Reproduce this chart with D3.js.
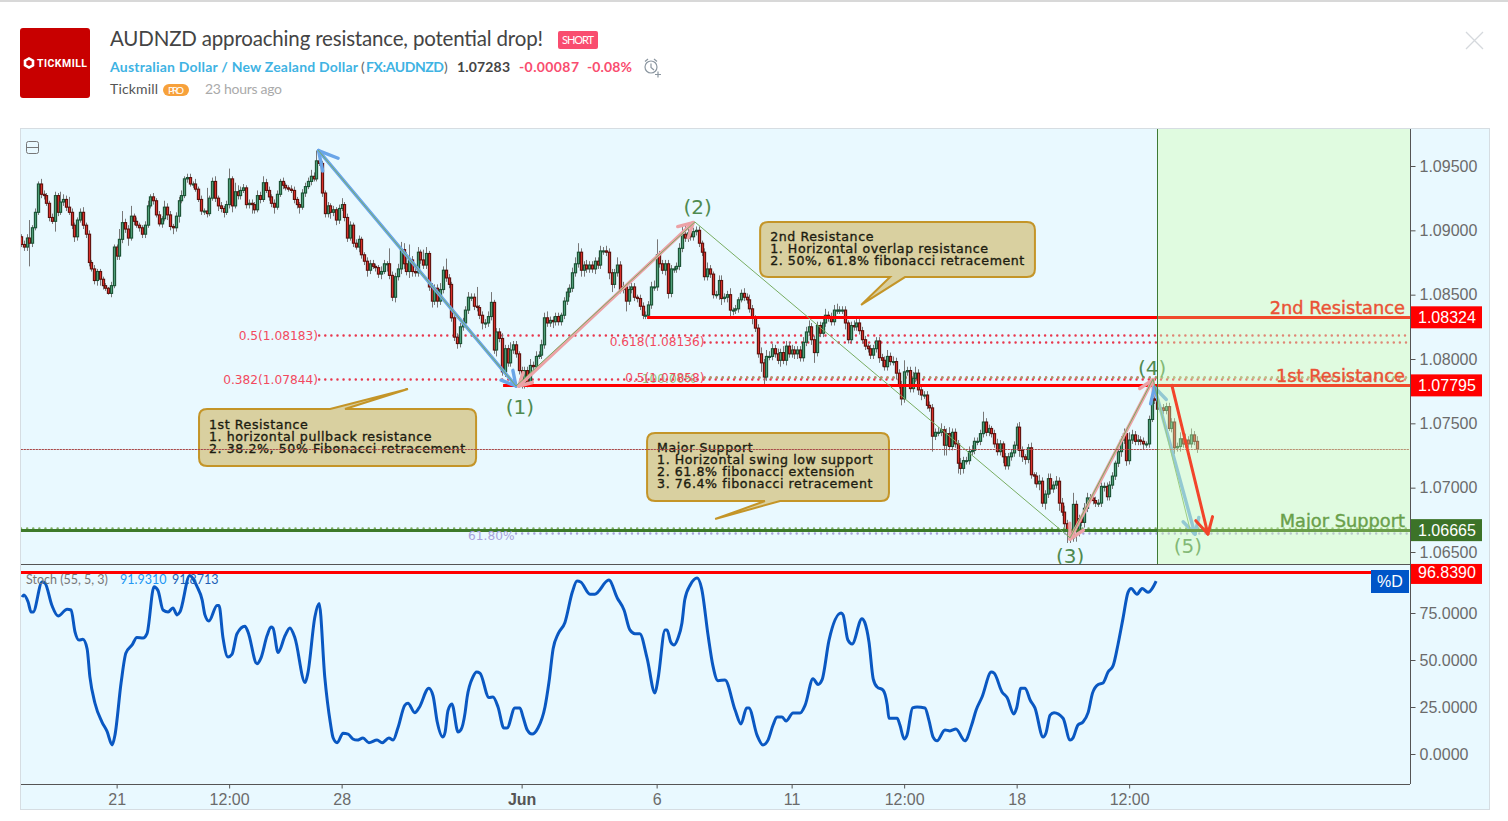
<!DOCTYPE html>
<html>
<head>
<meta charset="utf-8">
<title>AUDNZD approaching resistance, potential drop!</title>
<script src="https://cdnjs.cloudflare.com/ajax/libs/d3/7.8.5/d3.min.js"></script>
<style>
  html, body { margin: 0; padding: 0; background: #fff; }
  svg { display: block; }
  .hdr { font-family: "Lato", sans-serif; }
  .ax text { font-family: "Liberation Sans", Arial, sans-serif; font-size: 16px; fill: #6b6b6b; }
  .note { font-family: "DejaVu Sans", sans-serif; font-size: 12.6px; letter-spacing: 0.57px; fill: #1c1c10; stroke: #1c1c10; stroke-width: 0.35; }
</style>
</head>
<body>
<svg id="chart" width="1508" height="821"></svg>
<script>
/* candle data, bar by bar */
var firstOpen = 1.0895;
var closes = [
  1.0889,1.0887,1.0894,1.0890,1.0902,1.0914,1.0936,1.0928,1.0927,1.0921,1.0910,1.0907,1.0927,1.0914,1.0922,1.0924,1.0918,1.0914,
  1.0904,1.0895,1.0908,1.0914,1.0904,1.0897,1.0875,1.0870,1.0861,1.0868,1.0862,1.0857,1.0855,1.0851,1.0857,1.0887,1.0880,
  1.0893,1.0906,1.0901,1.0894,
  1.0911,1.0907,1.0904,1.0902,1.0897,1.0904,1.0919,1.0926,1.0923,1.0912,1.0905,1.0909,1.0918,1.0912,1.0903,1.0902,1.0911,1.0923,1.0927,1.0940,1.0941,
  1.0936,1.0936,1.0932,1.0924,1.0915,1.0915,1.0913,1.0925,1.0938,1.0925,1.0919,1.0917,1.0914,1.0920,1.0940,1.0919,1.0930,1.0927,1.0931,1.0933,
  1.0920,1.0921,1.0920,1.0916,1.0927,1.0924,1.0937,1.0931,1.0926,1.0921,1.0918,1.0928,1.0938,1.0935,1.0933,1.0932,1.0931,1.0924,1.0920,1.0918,
  1.0929,1.0934,1.0938,1.0942,1.0940,1.0954,1.0952,1.0929,1.0913,1.0919,1.0914,1.0916,1.0908,1.0917,1.0920,1.0910,1.0894,1.0904,1.0890,1.0887,
  1.0893,1.0881,1.0876,1.0869,1.0874,
  1.0872,1.0871,1.0866,1.0868,1.0874,1.0874,1.0865,1.0848,1.0864,1.0870,1.0885,1.0874,1.0868,1.0877,1.0868,
  1.0867,1.0883,1.0877,1.0873,1.0882,1.0856,1.0845,1.0855,1.0845,1.0854,1.0869,1.0863,1.0858,1.0832,1.0817,1.0812,1.0825,1.0828,1.0838,1.0848,
  1.0848,1.0841,1.0840,1.0834,1.0828,1.0828,1.0833,1.0844,1.0807,1.0821,1.0816,1.0790,1.0808,1.0797,1.0807,1.0811,1.0804,1.0791,1.0780,1.0791,
  1.0782,1.0795,1.0794,1.0802,1.0803,1.0811,1.0832,1.0828,1.0830,1.0829,1.0833,1.0829,1.0834,1.0845,1.0852,1.0855,1.0867,1.0874,1.0883,1.0869,
  1.0873,1.0870,1.0873,1.0870,1.0876,1.0873,1.0884,1.0884,1.0883,1.0867,1.0858,1.0867,1.0873,1.0854,1.0856,1.0845,1.0854,1.0856,1.0848,1.0847,
  1.0841,1.0834,1.0834,1.0842,1.0856,1.0856,1.0881,1.0874,1.0869,1.0874,1.0851,1.0870,1.0870,1.0872,1.0886,1.0897,1.0894,1.0898,1.0895,1.0899,
  1.0900,1.0890,1.0883,1.0864,1.0870,1.0866,1.0850,1.0850,1.0861,
  1.0847,1.0848,1.0850,1.0838,1.0838,1.0839,1.0846,1.0851,1.0848,1.0846,1.0839,
  1.0832,1.0824,1.0804,1.0797,1.0786,1.0802,1.0802,1.0808,1.0804,1.0799,1.0805,1.0799,1.0810,1.0804,1.0807,1.0804,1.0807,1.0801,1.0813,1.0821,
  1.0825,1.0815,1.0805,1.0826,1.0820,1.0828,1.0834,1.0833,1.0829,1.0838,1.0838,1.0838,1.0838,1.0828,1.0815,1.0826,1.0825,1.0828,1.0822,1.0815,
  1.0810,1.0808,1.0803,1.0808,1.0814,1.0801,1.0799,1.0794,1.0802,1.0798,1.0798,1.0789,1.0780,1.0769,1.0790,1.0791,1.0777,1.0785,1.0789,1.0776,
  1.0772,1.0772,1.0764,1.0762,1.0740,1.0743,1.0743,1.0745,1.0733,1.0742,1.0732,1.0743,1.0734,1.0719,1.0715,1.0721,1.0721,1.0728,1.0729,1.0736,
  1.0736,1.0742,1.0751,1.0743,1.0746,1.0742,1.0734,1.0728,1.0734,1.0724,1.0717,1.0724,1.0727,1.0733,1.0747,
  1.0729,1.0724,1.0722,1.0731,1.0710,1.0709,1.0703,1.0705,1.0688,1.0695,1.0707,1.0699,1.0702,1.0705,1.0688,1.0681,1.0672,1.0666,1.0661,1.0687,
  1.0666,1.0676,1.0673,1.0684,1.0692,1.0692,1.0690,1.0688,1.0688,1.0701,1.0701,1.0693,1.0702,1.0709,1.0719,1.0728,1.0737,1.0742,1.0721,1.0737,
  1.0741,1.0736,1.0737,1.0736,1.0734,1.0734,1.0753,1.0769,1.0768,1.0761,1.0762,1.0760,1.0763,1.0746,1.0751,1.0731,1.0732,1.0738,1.0734,1.0737,
  1.0734,1.0741,1.0736,1.0730
];
/* shadow lengths in pips */
var wickUp = [
  2,3,3,14,2,3,2,4,3,2,2,3,3,2,8,4,3,8,3,2,
  2,3,4,2,3,2,3,2,2,2,2,1,3,2,2,8,9,3,3,8,
  2,3,2,2,3,4,2,3,2,3,2,5,3,3,2,3,3,4,2,3,
  3,2,4,2,3,2,18,2,3,4,2,3,2,3,8,2,7,5,3,3,
  2,3,3,2,4,3,5,3,3,2,3,3,2,3,2,2,3,3,2,2,
  3,3,3,5,3,8,3,2,2,3,2,3,2,3,5,2,3,3,2,3,
  3,2,2,3,3,3,2,2,4,3,2,12,3,3,4,6,5,9,12,3,
  3,4,2,8,5,2,3,3,3,5,3,9,3,2,2,3,3,4,3,4,
  3,3,15,2,3,3,4,8,2,3,3,4,3,3,6,3,3,2,3,3,
  3,5,3,4,3,4,4,5,3,3,3,3,2,3,3,3,4,5,7,3,
  3,4,3,3,3,3,4,3,4,3,3,3,6,3,4,2,3,3,3,2,
  3,3,3,3,4,5,12,3,3,3,3,3,2,3,4,6,7,4,3,3,
  3,3,2,3,5,3,2,3,4,4,3,3,5,2,3,2,3,4,3,4,
  3,2,3,5,3,5,4,4,3,4,3,5,4,3,4,3,3,3,4,4,
  5,3,3,3,3,4,5,3,3,4,5,3,3,3,2,3,4,4,3,3,
  3,2,3,3,3,3,3,3,5,3,4,3,3,3,9,3,3,5,5,3,
  3,3,3,3,3,3,4,5,3,4,5,3,3,3,4,3,3,4,4,3,
  3,3,8,3,3,2,3,4,3,2,3,3,3,3,3,4,3,2,3,4,
  2,3,5,3,3,4,4,3,4,3,4,5,3,2,9,3,3,3,4,4,
  3,3,3,3,3,3,3,3,3,2,3,3,4,3,6,4,3,4,3,3,
  2,3,6,3,3,2,3,3,3,3,3,3,5,3,5,3,5,3,4
];
var wickDown = [
  2,3,3,18,3,2,2,3,3,2,3,2,8,3,2,3,3,2,3,4,
  3,2,3,3,3,2,3,4,5,3,2,1,3,2,3,3,3,3,6,2,
  3,2,3,3,3,2,2,3,2,2,3,2,4,3,5,3,5,2,2,3,
  2,3,2,2,3,3,3,2,2,3,4,3,4,2,3,5,2,3,3,2,
  3,3,7,3,2,3,2,2,3,3,5,2,2,3,2,2,2,3,3,5,
  2,3,2,3,2,2,2,3,3,3,5,3,4,3,2,3,3,2,3,2,
  4,3,3,5,3,2,3,3,4,2,6,3,3,4,3,4,4,3,5,4,
  3,3,3,3,3,3,5,3,5,3,3,3,3,3,3,4,3,3,2,3,
  3,3,3,3,5,4,3,3,3,5,3,3,4,3,3,3,3,3,3,3,
  4,3,3,3,2,3,3,3,3,5,3,3,3,3,3,4,3,3,3,5,
  5,3,3,3,4,3,3,3,3,5,6,3,3,3,3,8,3,3,3,3,
  3,3,3,3,3,3,3,3,3,4,4,3,3,3,3,3,3,3,3,3,
  3,3,3,3,3,3,3,3,4,5,3,4,5,4,3,3,2,3,3,3,
  5,3,3,7,6,3,3,3,3,3,5,3,4,3,3,4,4,3,3,3,
  3,4,8,3,3,3,3,4,3,3,3,3,3,5,3,3,3,3,3,3,
  3,3,3,3,3,4,5,3,3,3,3,5,3,5,3,3,3,3,3,4,
  4,3,3,3,12,3,3,3,8,8,3,3,3,8,5,4,3,3,3,3,
  3,3,3,3,3,3,3,3,3,5,3,3,3,3,4,5,4,4,3,3,
  6,3,5,3,5,3,4,3,3,6,3,3,9,4,3,8,4,3,4,3,
  3,3,3,3,3,4,3,3,3,3,3,4,3,4,3,3,3,3,3,4,
  3,3,2,3,3,3,3,3,2,3,5,3,4,3,3,3,3,3,3
];

/* stochastic %D, traced along its bends */
var stochBars = [
  0.4,1,2.5,3.6,4.3,7.5,8.5,11,13.2,16.4,17.8,19.2,20.6,22,23.5,24.5,26.3,28.8,30.6,32.4,33.4,35.6,37.3,39.5,41.2,43.4,44.8,47.3,48.7,50.5,
  52.3,54,55.5,56.5,60,62.6,64.4,65.4,66.8,69.7,70.4,71.8,73.6,75,76.8,79.6,80.7,83.9,85.3,87.5,88.9,89.6,91.4,93.9,95.6,97.4,101,102,104.5,106,
  108,110,111,112.4,114.5,116.3,118,119.5,121.6,123.7,126.6,128.4,130.8,132.3,134,136.5,137.6,140,141.5,145,146.5,148,150,150.8,151.8,153.2,155.4,156.4,157.9,158.6,
  160.7,162,163.2,166.4,167.8,169.6,171.7,172.8,175.6,177.4,178.5,180,181.7,183.8,186.3,187.7,189.2,191,193.4,196,197.7,199,202.3,204,209,212,214.4,216.5,218.3,220,
  222.6,225.4,226.5,229,229.7,231,232.2,233.6,235,236,238,240.4,242,244.3,246,247.8,250.3,253.9,256,258,258.8,261.7,263.8,265.6,267.4,268.8,270.6,272,274.5,277,
  278.8,281.6,283.4,284.8,287.3,291.6,292.3,294,295.5,299,300,301.5,303,304.4,306.5,308,308.6,311.5,312.5,314,315,317,318.6,321.4,322.8,324.3,325.7,328.5,330.3,332.4,
  335.6,338,339.6,341.7,345,346,348.8,350.6,353,354,355.5,357,358.8,360.5,363.4,364.4,365.9,367.3,370.5,373,374,375.8,377.6,379.4,381,383,384.7,386.5,388.3,390,
  391.8,393.6,394.7,396.8,398.6,400.7,403.6
];
var stochValues = [
  83.5,84.6,81,75.5,75.5,91.5,91,79,73.4,77,76.6,65,60.6,61,56,41,27,17,12,4.8,10,38,53.7,58,62,61.7,64,89,87,76.6,
  75.5,77.7,74,75.5,95,89,82,74,70.7,79,79,62,51.6,53,64,68,65,48,51,63,67.5,67,54,63,67,61.7,38,43,73,80,
  41,16.5,8.5,6,11,10.6,8,7.4,8.5,6,7.4,6,8.5,7.4,13.8,26,27,22,24.5,35,31,17,9,11.7,23,26.6,11.7,12.8,22,30,
  41,43.6,43,30,30.3,25,13.8,13.8,24.5,24.5,19.7,12.8,10.6,13.8,25,38,56,64,70,86,92,91.5,85,85,92.5,83,76.6,66,64,64,
  51,32.5,40,66,66,59.6,58,61.7,69.7,82,90,93.6,88,63,47,39,39.4,23.4,16,24.5,24.5,10,4.8,7.4,15.4,19.7,19.7,17.5,21.8,21.8,
  26,40,37,39.4,60.6,75,74,60.6,58.5,72,70,59.6,40,35.6,34,26,19,19,15.4,8,10,24.5,25,24.5,18,9,7,12.8,12.3,13.3,
  7,15.4,23.4,30.3,43.6,43,33,30,21.3,24.5,35,35,28.7,24.5,9,11,20.7,22,19,7.4,8.5,15.4,17,22,32.5,37,37.8,43.6,47,58,
  72,86,88,85,88,86,92
];

var priceTicks = [1.065, 1.07, 1.075, 1.08, 1.085, 1.09, 1.095];
var stochTicks = [0, 25, 50, 75];
var timeBars = [34, 74, 114, 178, 226, 274, 314, 354, 394];
var timeLabels = ["21", "12:00", "28", "Jun", "6", "11", "12:00", "18", "12:00"];

/* drawn levels, wave turning points */
var levelPrices = [1.08324, 1.07795, 1.0667];
var levelBars = [222.6, 171.4, 0];
var levelTags = ["1.08324", "1.07795", "1.06665"];
var levelNames = ["2nd Resistance", "1st Resistance", "Major Support"];
var lastPrice = 1.0730;
var stochLevel = 96.839;
var waveBars = [105.6, 176, 239.6, 373, 402.5, 415.6];
var wavePrices = [1.09624, 1.0779, 1.09065, 1.0661, 1.07844, 1.0668];

var svg = d3.select("#chart");

/* scales */
var x = d3.scaleLinear().domain([0, 494]).range([21, 1410.4]);
var y = d3.scaleLinear().domain([1.065, 1.095]).range([552, 166]);
var yS = d3.scaleLinear().domain([0, 75]).range([754, 613]);

var paneL = 21, paneR = 1410, paneT = 129, paneM = 564, paneB = 784;
var pip = 0.0001;

var candles = closes.map(function(c, i) {
  var o = i === 0 ? firstOpen : closes[i - 1];
  return {
    i: i, o: o, c: c,
    h: Math.max(o, c) + (wickUp[i] || 0) * pip,
    l: Math.min(o, c) - (wickDown[i] || 0) * pip
  };
});

/* page chrome */
svg.append("rect").attr("width", 1508).attr("height", 2).attr("fill", "#d8d8d8");
svg.append("rect").attr("x", 20).attr("y", 28).attr("width", 70).attr("height", 70).attr("rx", 3).attr("fill", "#c80000");
svg.append("path").attr("d", d3.line()(d3.range(6).map(function(k) {
  var a = Math.PI / 3 * k + Math.PI / 6;
  return [29 + 4.6 * Math.cos(a), 63 + 4.6 * Math.sin(a)];
})) + "Z").attr("fill", "none").attr("stroke", "#fff").attr("stroke-width", 2.6);
svg.append("text").attr("x", 37).attr("y", 67).text("TICKMILL")
  .attr("font-family", "Roboto, sans-serif").attr("font-weight", 700).attr("font-size", 10.5).attr("fill", "#fff").attr("textLength", 50);

svg.append("text").attr("class", "hdr").attr("x", 110).attr("y", 46).text("AUDNZD approaching resistance, potential drop!")
  .attr("font-size", 20.5).attr("fill", "#444").attr("textLength", 433);
svg.append("rect").attr("x", 558).attr("y", 31).attr("width", 40).attr("height", 18).attr("rx", 2).attr("fill", "#f94d6f");
svg.append("text").attr("class", "hdr").attr("x", 578).attr("y", 44).attr("text-anchor", "middle").text("SHORT")
  .attr("font-size", 11).attr("fill", "#fff").attr("textLength", 32);

function headerText(xp, yp, s, col, weight, size, len) {
  var t = svg.append("text").attr("class", "hdr").attr("x", xp).attr("y", yp).text(s)
    .attr("fill", col).attr("font-weight", weight).attr("font-size", size);
  if (len) t.attr("textLength", len);
}
headerText(110, 72, "Australian Dollar / New Zealand Dollar", "#3fb3e3", 700, 14, 248);
headerText(361, 72, "(", "#666", 400, 14);
headerText(366, 72, "FX:AUDNZD", "#3fb3e3", 700, 14, 78);
headerText(444, 72, ")", "#666", 400, 14);
headerText(457, 72, "1.07283", "#444", 700, 14, 53);
headerText(519, 72, "-0.00087", "#f94d6f", 700, 14, 60);
headerText(587, 72, "-0.08%", "#f94d6f", 700, 14, 45);
headerText(110, 94, "Tickmill", "#555", 400, 14, 48);
svg.append("rect").attr("x", 163).attr("y", 84).attr("width", 26).attr("height", 12).attr("rx", 6).attr("fill", "#f7a13b");
headerText(168, 94, "PRO", "#fff", 400, 10, 16);
headerText(205, 94, "23 hours ago", "#aaa", 400, 14, 77);

/* alarm clock */
var clock = svg.append("g").attr("fill", "none").attr("stroke", "#8b96a0").attr("stroke-width", 1.2);
clock.append("circle").attr("cx", 651).attr("cy", 67).attr("r", 6);
clock.append("path").attr("d", "M651 63.5V67.5L654 70M645 61.5L648 59M657 61.5L654 59M655 74.5H661M658 71.5V77.5");
/* close cross */
svg.append("path").attr("d", "M1466 32L1483 49M1483 32L1466 49").attr("stroke", "#d5d9dd").attr("stroke-width", 1.3);

/* chart frame */
svg.append("rect").attr("x", 20.5).attr("y", 128.5).attr("width", 1469).attr("height", 681)
  .attr("fill", "#e9f9ff").attr("stroke", "#d6dde2");

var defs = svg.append("defs");
defs.append("clipPath").attr("id", "pricePane").append("rect")
  .attr("x", paneL).attr("y", paneT).attr("width", paneR - paneL).attr("height", paneM - paneT);
defs.append("clipPath").attr("id", "stochPane").append("rect")
  .attr("x", paneL).attr("y", paneM).attr("width", paneR - paneL).attr("height", paneB - paneM);

var pane = svg.append("g").attr("clip-path", "url(#pricePane)");

function hLine(g, bar, price, col, width, dash) {
  var l = g.append("line").attr("x1", x(bar)).attr("x2", paneR)
    .attr("y1", Math.round(y(price)) + 0.5).attr("y2", Math.round(y(price)) + 0.5)
    .attr("stroke", col).attr("stroke-width", width);
  if (dash) l.attr("stroke-dasharray", dash).attr("stroke-linecap", "round");
}

/* fib and support dots go under the candles */
var dots = "0.1 6";
hLine(pane, 106, 1.08183, "#e8384e", 2.4, dots);
hLine(pane, 106, 1.07844, "#e8384e", 2.4, dots);
hLine(pane, 243, 1.08136, "#e8384e", 2.4, dots);
hLine(pane, 243, 1.07858, "#e8384e", 2.4, dots);
hLine(pane, 243, 1.0786, "#8fb56a", 2.2, dots);
hLine(pane, 176, 1.06648, "#a7a2dc", 2.4, dots);
hLine(pane, 0, 1.06688, "#7fae62", 2.4, dots);

/* candles */
var bars = pane.append("g").selectAll("g").data(candles).join("g");
bars.append("line")
  .attr("x1", function(d) { return Math.round(x(d.i)) + 0.5; })
  .attr("x2", function(d) { return Math.round(x(d.i)) + 0.5; })
  .attr("y1", function(d) { return y(d.h); })
  .attr("y2", function(d) { return y(d.l); })
  .attr("stroke", "#777").attr("stroke-width", 1);
bars.append("rect")
  .attr("x", function(d) { return Math.round(x(d.i)) - 0.6; })
  .attr("width", 2.2)
  .attr("y", function(d) { return y(Math.max(d.o, d.c)); })
  .attr("height", function(d) { return Math.max(1, Math.abs(y(d.o) - y(d.c))); })
  .attr("fill", function(d) { return d.c >= d.o ? "#4f9e78" : "#d8302a"; })
  .attr("stroke", function(d) { return d.c >= d.o ? "#1a5234" : "#5e100c"; })
  .attr("stroke-width", 1.1);

/* horizontal levels */
levelPrices.forEach(function(p, i) {
  hLine(pane, levelBars[i], p, i < 2 ? "#ff0000" : "#3d7a2a", 3);
});

/* fib labels */
function fibLabel(bar, price, s, col) {
  pane.append("text").attr("x", x(bar)).attr("y", y(price) + 4.5).attr("text-anchor", "end").text(s)
    .attr("font-family", "DejaVu Sans, sans-serif").attr("font-size", 12.2).attr("fill", col);
}
fibLabel(105.6, 1.08183, "0.5(1.08183)", "#f2495e");
fibLabel(105.6, 1.07844, "0.382(1.07844)", "#f2495e");
fibLabel(243, 1.08136, "0.618(1.08136)", "#f2495e");
fibLabel(240, 1.07845, "100.00%", "#8fc27a");
fibLabel(243, 1.07858, "0.5(1.07858)", "#f2495e");
fibLabel(175.5, 1.06625, "61.80%", "#a7a2dc");

/* arrows, with the wave zigzag over them */
function arrow(parent, b0, p0, b1, p1, col, width, both, len, backLen) {
  var x0 = x(b0), y0 = y(p0), x1 = x(b1), y1 = y(p1);
  var g = parent.append("g").attr("fill", "none").attr("stroke", col).attr("stroke-width", width).attr("stroke-linecap", "round");
  g.append("line").attr("x1", x0).attr("y1", y0).attr("x2", x1).attr("y2", y1);
  function head(xa, ya, xb, yb, l) {
    var a = Math.atan2(yb - ya, xb - xa);
    [-0.5, 0.5].forEach(function(s) {
      g.append("line").attr("x1", xb).attr("y1", yb)
        .attr("x2", xb - l * Math.cos(a + s)).attr("y2", yb - l * Math.sin(a + s));
    });
  }
  head(x0, y0, x1, y1, len);
  if (both) head(x1, y1, x0, y0, backLen || len);
}
arrow(pane, 105.8, 1.0962, 176, 1.0779, "#6aa5e8", 3.4, true, 16, 21);
arrow(pane, 177, 1.0779, 239, 1.0906, "#eca2a6", 3.4, true, 16, 14);
arrow(pane, 373, 1.0660, 402.5, 1.0784, "#eca2a6", 3.4, true, 16, 16);
arrow(pane, 403, 1.0778, 417.4, 1.0664, "#6aa5e8", 3.4, true, 17, 17);

var wave = d3.line().x(function(d) { return x(d[0]); }).y(function(d) { return y(d[1]); });
pane.append("path").datum(d3.zip(waveBars, wavePrices)).attr("d", wave)
  .attr("fill", "none").attr("stroke", "#78ad62").attr("stroke-width", 1);

/* wave labels */
function waveLabel(bar, price, s) {
  pane.append("text").attr("x", x(bar)).attr("y", y(price)).attr("text-anchor", "middle").text(s)
    .attr("font-family", "DejaVu Sans, sans-serif").attr("font-size", 20).attr("fill", "#4f8a4f");
}
waveLabel(177.4, 1.07575, "(1)");
waveLabel(240.6, 1.0913, "(2)");
waveLabel(373, 1.06415, "(3)");
waveLabel(402.2, 1.07875, "(4)");
waveLabel(414.9, 1.06495, "(5)");

/* callout boxes */
function callout(x0b, y0p, x1b, y1p, tipB, tipP, baseA, baseB, lines) {
  var x0 = x(x0b), x1 = x(x1b), y0 = y(y0p), y1 = y(y1p), r = 8;
  var tip = [x(tipB), y(tipP)], a = x(baseA), b = x(baseB);
  var up = tip[1] < y0;
  var d = "M" + (x0 + r) + " " + y0;
  if (up) d += "L" + a + " " + y0 + "L" + tip + "L" + b + " " + y0;
  d += "L" + (x1 - r) + " " + y0 + "Q" + x1 + " " + y0 + " " + x1 + " " + (y0 + r);
  d += "L" + x1 + " " + (y1 - r) + "Q" + x1 + " " + y1 + " " + (x1 - r) + " " + y1;
  if (!up) d += "L" + b + " " + y1 + "L" + tip + "L" + a + " " + y1;
  d += "L" + (x0 + r) + " " + y1 + "Q" + x0 + " " + y1 + " " + x0 + " " + (y1 - r);
  d += "L" + x0 + " " + (y0 + r) + "Q" + x0 + " " + y0 + " " + (x0 + r) + " " + y0 + "Z";
  pane.append("path").attr("d", d).attr("fill", "#d9d0a0").attr("stroke", "#c49528").attr("stroke-width", 2);
  lines.forEach(function(s, k) {
    pane.append("text").attr("class", "note").attr("x", x0 + 10).attr("y", y0 + 19.5 + 12 * k).text(s);
  });
}
callout(63.3, 1.07611, 161.8, 1.07168, 137.6, 1.07767, 109.9, 115.2,
  ["1st Resistance", "1. horizontal pullback resistance", "2. 38.2%, 50% Fibonacci retracement"]);
callout(262.8, 1.09065, 360.5, 1.08637, 298.7, 1.0842, 309, 314.3,
  ["2nd Resistance", "1. Horizontal overlap resistance", "2. 50%, 61.8% fibonacci retracement"]);
callout(222.6, 1.07425, 308.6, 1.06896, 246.8, 1.06756, 264.5, 269.9,
  ["Major Support", "1. Horizontal swing low support", "2. 61.8% fibonacci extension", "3. 76.4% fibonacci retracement"]);

/* last price dots run over the callouts */
hLine(pane, 0, lastPrice, "#a84848", 1, "1.5 1.5");

/* projection zone, drawn over what is already in the pane */
var zoneBar = 404;
pane.append("rect").attr("x", x(zoneBar) + 0.5).attr("y", paneT).attr("width", paneR - x(zoneBar)).attr("height", paneM - paneT)
  .attr("fill", "rgb(210,254,177)").attr("fill-opacity", 0.4);
pane.append("line").attr("x1", Math.round(x(zoneBar)) + 0.5).attr("x2", Math.round(x(zoneBar)) + 0.5)
  .attr("y1", paneT).attr("y2", paneM).attr("stroke", "#3d7a34").attr("stroke-width", 1);

/* level lines stay strong inside the zone */
levelPrices.forEach(function(p, i) {
  hLine(pane, zoneBar + 0.4, p, i < 2 ? "#f04a2c" : "#6b9e4a", 3);
});
arrow(pane, 409.2, 1.07795, 422, 1.0664, "#f2442a", 3, false, 18);

/* level names */
levelNames.forEach(function(s, i) {
  var col = i < 2 ? "#ea5236" : "#69a04a";
  pane.append("text").attr("x", 1405).attr("y", y(levelPrices[i]) - 3.5).attr("text-anchor", "end").text(s)
    .attr("font-family", "DejaVu Sans, sans-serif").attr("font-size", 17.8)
    .attr("fill", col).attr("stroke", col).attr("stroke-width", 0.4);
});

/* collapse button */
svg.append("rect").attr("x", 26.5).attr("y", 141.5).attr("width", 12).attr("height", 12).attr("rx", 2)
  .attr("fill", "none").attr("stroke", "#777");
svg.append("line").attr("x1", 26.5).attr("x2", 38.5).attr("y1", 147.5).attr("y2", 147.5).attr("stroke", "#777");

/* stochastic pane */
var sPane = svg.append("g").attr("clip-path", "url(#stochPane)");
var sLine = d3.line().x(function(d) { return x(d[0]); }).y(function(d) { return yS(d[1]); }).curve(d3.curveMonotoneX);
sPane.append("line").attr("x1", paneL).attr("x2", 1371).attr("y1", Math.round(yS(stochLevel)) + 0.5).attr("y2", Math.round(yS(stochLevel)) + 0.5)
  .attr("stroke", "#ff0000").attr("stroke-width", 3);
sPane.append("path").datum(d3.zip(stochBars, stochValues)).attr("d", sLine)
  .attr("fill", "none").attr("stroke", "#0a58c2").attr("stroke-width", 3).attr("stroke-linejoin", "round");

var legend = svg.append("g").attr("font-family", "Lato, sans-serif").attr("font-size", 12.5);
legend.append("text").attr("x", 26).attr("y", 584).attr("fill", "#777").text("Stoch (55, 5, 3)");
legend.append("text").attr("x", 120).attr("y", 584).attr("fill", "#2196f3").text("91.9310");
legend.append("text").attr("x", 172).attr("y", 584).attr("fill", "#1e5fb4").text("91.8713");

/* axes */
var priceAxis = svg.append("g").attr("class", "ax").attr("transform", "translate(1410.5,0)")
  .call(d3.axisRight(y).tickValues(priceTicks).tickSize(5).tickPadding(4).tickFormat(d3.format(".5f")));
var stochAxis = svg.append("g").attr("class", "ax").attr("transform", "translate(1410.5,0)")
  .call(d3.axisRight(yS).tickValues(stochTicks).tickSize(5).tickPadding(4).tickFormat(d3.format(".4f")));
var timeAxis = svg.append("g").attr("class", "ax").attr("transform", "translate(0," + (paneB + 0.5) + ")")
  .call(d3.axisBottom(x).tickValues(timeBars).tickSize(4).tickPadding(5).tickFormat(function(d, i) { return timeLabels[i]; }));
[priceAxis, stochAxis, timeAxis].forEach(function(a) {
  a.select(".domain").remove();
  a.selectAll("line").attr("stroke", "#555");
});
timeAxis.selectAll("text").filter(function(d, i) { return timeLabels[i] === "Jun"; })
  .attr("font-weight", 700).style("fill", "#555");

/* pane borders */
svg.append("path").attr("d", "M1410.5 129V784M21 564.5H1410M21 784.5H1410").attr("fill", "none").attr("stroke", "#555");

/* price tags */
function tag(yp, h, s, col, bg, off) {
  svg.append("rect").attr("x", 1411).attr("y", yp - h / 2 + (off || 0)).attr("width", 71).attr("height", h).attr("fill", bg);
  svg.append("text").attr("x", 1418).attr("y", yp + 6).text(s)
    .attr("font-family", "Liberation Sans, Arial, sans-serif").attr("font-size", 16).attr("fill", col);
}
levelPrices.forEach(function(p, i) {
  tag(y(p), 22, levelTags[i], "#fff", i < 2 ? "#ff0000" : "#3c7328");
});
tag(yS(stochLevel), 20, "96.8390", "#fff", "#ff0000", 2);
svg.append("rect").attr("x", 1371).attr("y", 570).attr("width", 38).attr("height", 23).attr("fill", "#0055c8");
svg.append("text").attr("x", 1390).attr("y", 587).attr("text-anchor", "middle").text("%D")
  .attr("font-family", "Liberation Sans, Arial, sans-serif").attr("font-size", 16).attr("fill", "#fff");
</script>
</body>
</html>
